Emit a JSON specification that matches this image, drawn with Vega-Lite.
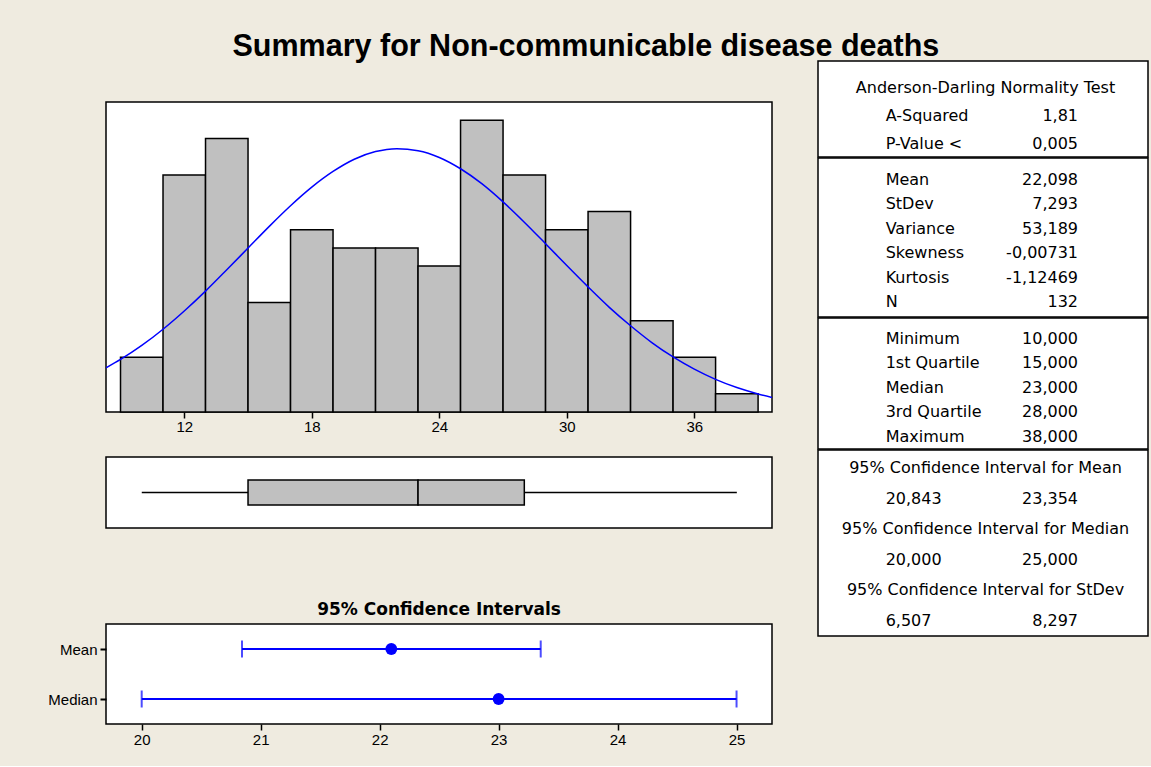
{
  "$schema": "https://vega.github.io/schema/vega-lite/v6.json",
  "background": "#EFEBE0",
  "padding": {"left": 47, "top": 31, "right": 2, "bottom": 18},
  "title": {"text": "Summary for Non-communicable disease deaths", "fontSize": 30.5, "font": "Liberation Sans", "fontWeight": "bold", "anchor": "middle", "color": "black", "offset": -2, "dx": -12},
  "config": {
    "font": "Liberation Sans",
    "view": {"stroke": "black", "strokeWidth": 1.5, "fill": "white"},
    "axis": {"labelColor": "black", "tickColor": "black", "labelFont": "Liberation Sans", "labelFontSize": 15, "tickSize": 6, "tickWidth": 1.5, "domain": false, "grid": false, "title": null}
  },
  "datasets": {
    "hist": [
      {"bin_start": 9, "bin_end": 11, "count": 3},
      {"bin_start": 11, "bin_end": 13, "count": 13},
      {"bin_start": 13, "bin_end": 15, "count": 15},
      {"bin_start": 15, "bin_end": 17, "count": 6},
      {"bin_start": 17, "bin_end": 19, "count": 10},
      {"bin_start": 19, "bin_end": 21, "count": 9},
      {"bin_start": 21, "bin_end": 23, "count": 9},
      {"bin_start": 23, "bin_end": 25, "count": 8},
      {"bin_start": 25, "bin_end": 27, "count": 16},
      {"bin_start": 27, "bin_end": 29, "count": 13},
      {"bin_start": 29, "bin_end": 31, "count": 10},
      {"bin_start": 31, "bin_end": 33, "count": 11},
      {"bin_start": 33, "bin_end": 35, "count": 5},
      {"bin_start": 35, "bin_end": 37, "count": 3},
      {"bin_start": 37, "bin_end": 39, "count": 1}
    ],
    "curve": [
      {"x": 8.317, "density": 2.42},
      {"x": 9, "density": 2.88},
      {"x": 10, "density": 3.65},
      {"x": 11, "density": 4.54},
      {"x": 12, "density": 5.54},
      {"x": 13, "density": 6.63},
      {"x": 14, "density": 7.8},
      {"x": 15, "density": 8.99},
      {"x": 16, "density": 10.18},
      {"x": 17, "density": 11.31},
      {"x": 18, "density": 12.33},
      {"x": 19, "density": 13.19},
      {"x": 20, "density": 13.86},
      {"x": 21, "density": 14.28},
      {"x": 22, "density": 14.44},
      {"x": 23, "density": 14.33},
      {"x": 24, "density": 13.96},
      {"x": 25, "density": 13.34},
      {"x": 26, "density": 12.52},
      {"x": 27, "density": 11.52},
      {"x": 28, "density": 10.41},
      {"x": 29, "density": 9.23},
      {"x": 30, "density": 8.03},
      {"x": 31, "density": 6.86},
      {"x": 32, "density": 5.74},
      {"x": 33, "density": 4.73},
      {"x": 34, "density": 3.81},
      {"x": 35, "density": 3.02},
      {"x": 36, "density": 2.35},
      {"x": 37, "density": 1.79},
      {"x": 38, "density": 1.34},
      {"x": 39, "density": 0.99},
      {"x": 39.655, "density": 0.8}
    ],
    "summary": [{"label": "box", "min": 10, "q1": 15, "median": 23, "q3": 28, "max": 38}],
    "ci": [
      {"stat": "Mean", "lo": 20.843, "est": 22.098, "hi": 23.354},
      {"stat": "Median", "lo": 20, "est": 23, "hi": 25}
    ],
    "table": [
      {"sec": 1, "row": 1, "kind": "h", "a": "Anderson-Darling Normality Test", "b": ""},
      {"sec": 1, "row": 2, "kind": "s", "a": "A-Squared", "b": "1,81"},
      {"sec": 1, "row": 3, "kind": "s", "a": "P-Value <", "b": "0,005"},
      {"sec": 2, "row": 1, "kind": "s", "a": "Mean", "b": "22,098"},
      {"sec": 2, "row": 2, "kind": "s", "a": "StDev", "b": "7,293"},
      {"sec": 2, "row": 3, "kind": "s", "a": "Variance", "b": "53,189"},
      {"sec": 2, "row": 4, "kind": "s", "a": "Skewness", "b": "-0,00731"},
      {"sec": 2, "row": 5, "kind": "s", "a": "Kurtosis", "b": "-1,12469"},
      {"sec": 2, "row": 6, "kind": "s", "a": "N", "b": "132"},
      {"sec": 3, "row": 1, "kind": "s", "a": "Minimum", "b": "10,000"},
      {"sec": 3, "row": 2, "kind": "s", "a": "1st Quartile", "b": "15,000"},
      {"sec": 3, "row": 3, "kind": "s", "a": "Median", "b": "23,000"},
      {"sec": 3, "row": 4, "kind": "s", "a": "3rd Quartile", "b": "28,000"},
      {"sec": 3, "row": 5, "kind": "s", "a": "Maximum", "b": "38,000"},
      {"sec": 4, "row": 1, "kind": "h", "a": "95% Confidence Interval for Mean", "b": ""},
      {"sec": 4, "row": 2, "kind": "s", "a": "20,843", "b": "23,354"},
      {"sec": 4, "row": 3, "kind": "h", "a": "95% Confidence Interval for Median", "b": ""},
      {"sec": 4, "row": 4, "kind": "s", "a": "20,000", "b": "25,000"},
      {"sec": 4, "row": 5, "kind": "h", "a": "95% Confidence Interval for StDev", "b": ""},
      {"sec": 4, "row": 6, "kind": "s", "a": "6,507", "b": "8,297"}
    ]
  },
  "spacing": 44,
  "hconcat": [
    {
      "spacing": 71,
      "vconcat": [
        {
          "spacing": 21,
          "vconcat": [
            {
              "width": 666, "height": 19,
              "view": {"stroke": null, "fill": "transparent"},
              "data": {"values": []},
              "mark": "point",
              "encoding": {}
            },
            {
              "width": 666, "height": 310,
              "layer": [
                {
                  "data": {"name": "hist"},
                  "mark": {"type": "bar", "fill": "#C0C0C0", "stroke": "black", "strokeWidth": 1.5},
                  "encoding": {
                    "x": {"field": "bin_start", "type": "quantitative", "scale": {"domain": [8.317, 39.655], "nice": false, "zero": false}, "axis": {"values": [12, 18, 24, 30, 36], "labelPadding": 1}},
                    "x2": {"field": "bin_end"},
                    "y": {"field": "count", "type": "quantitative", "scale": {"domain": [0, 17], "nice": false}, "axis": null},
                    "y2": {"datum": 0}
                  }
                },
                {
                  "data": {"name": "curve"},
                  "mark": {"type": "line", "color": "#0000FF", "strokeWidth": 1.5, "interpolate": "monotone", "clip": true},
                  "encoding": {
                    "x": {"field": "x", "type": "quantitative"},
                    "y": {"field": "density", "type": "quantitative"}
                  }
                }
              ]
            },
            {
              "width": 666, "height": 71,
              "data": {"name": "summary"},
              "encoding": {"y": {"field": "label", "type": "nominal", "axis": null}},
              "layer": [
                {
                  "mark": {"type": "rule", "color": "black", "strokeWidth": 1.5},
                  "encoding": {
                    "x": {"field": "min", "type": "quantitative", "scale": {"domain": [8.317, 39.655], "nice": false, "zero": false}, "axis": null},
                    "x2": {"field": "max"}
                  }
                },
                {
                  "mark": {"type": "bar", "fill": "#C0C0C0", "stroke": "black", "strokeWidth": 1.5, "size": 25},
                  "encoding": {"x": {"field": "q1", "type": "quantitative"}, "x2": {"field": "median"}}
                },
                {
                  "mark": {"type": "bar", "fill": "#C0C0C0", "stroke": "black", "strokeWidth": 1.5, "size": 25},
                  "encoding": {"x": {"field": "median", "type": "quantitative"}, "x2": {"field": "q3"}}
                }
              ]
            }
          ]
        },
        {
          "width": 666, "height": 100,
          "title": {"text": "95% Confidence Intervals", "font": "DejaVu Sans", "fontSize": 17, "fontWeight": "bold", "anchor": "middle", "offset": 5, "color": "black"},
          "data": {"name": "ci"},
          "encoding": {"y": {"field": "stat", "type": "nominal", "sort": ["Mean", "Median"], "scale": {"type": "point", "padding": 0.5}, "axis": {"labelPadding": 3, "tickWidth": 2}}},
          "layer": [
            {
              "mark": {"type": "rule", "color": "#0000FF", "strokeWidth": 2},
              "encoding": {
                "x": {"field": "lo", "type": "quantitative", "scale": {"domain": [19.7, 25.298], "nice": false, "zero": false}, "axis": {"values": [20, 21, 22, 23, 24, 25], "format": "d", "labelPadding": 2}},
                "x2": {"field": "hi"}
              }
            },
            {
              "mark": {"type": "tick", "color": "#0000FF", "thickness": 2, "size": 17, "orient": "vertical"},
              "encoding": {"x": {"field": "lo", "type": "quantitative"}}
            },
            {
              "mark": {"type": "tick", "color": "#0000FF", "thickness": 2, "size": 17, "orient": "vertical"},
              "encoding": {"x": {"field": "hi", "type": "quantitative"}}
            },
            {
              "mark": {"type": "circle", "color": "#0000FF", "opacity": 1, "size": 140},
              "encoding": {"x": {"field": "est", "type": "quantitative"}}
            }
          ]
        }
      ]
    },
    {
      "spacing": -1,
      "vconcat": [
        {
          "width": 330, "height": 96,
          "data": {"name": "table"},
          "transform": [{"filter": "datum.sec == 1"}],
          "encoding": {"y": {"field": "row", "type": "ordinal", "scale": {"type": "point", "padding": 0.714, "align": 0.667}, "axis": null}},
          "layer": [
            {"transform": [{"filter": "datum.kind == 'h'"}], "mark": {"type": "text", "align": "center", "baseline": "middle", "font": "DejaVu Sans", "fontSize": 16, "color": "black"}, "encoding": {"x": {"datum": 0.5076, "type": "quantitative", "scale": {"domain": [0, 1], "nice": false, "zero": false}, "axis": null}, "text": {"field": "a"}}},
            {"transform": [{"filter": "datum.kind != 'h'"}], "mark": {"type": "text", "align": "left", "baseline": "middle", "font": "DejaVu Sans", "fontSize": 16, "color": "black"}, "encoding": {"x": {"datum": 0.205, "type": "quantitative"}, "text": {"field": "a"}}},
            {"transform": [{"filter": "datum.kind != 'h'"}], "mark": {"type": "text", "align": "right", "baseline": "middle", "font": "DejaVu Sans", "fontSize": 16, "color": "black"}, "encoding": {"x": {"datum": 0.788, "type": "quantitative"}, "text": {"field": "b"}}}
          ]
        },
        {
          "width": 330, "height": 159,
          "data": {"name": "table"},
          "transform": [{"filter": "datum.sec == 2"}],
          "encoding": {"y": {"field": "row", "type": "ordinal", "scale": {"type": "point", "padding": 0.758, "align": 0.595}, "axis": null}},
          "layer": [
            {"mark": {"type": "text", "align": "left", "baseline": "middle", "font": "DejaVu Sans", "fontSize": 16, "color": "black"}, "encoding": {"x": {"datum": 0.205, "type": "quantitative", "scale": {"domain": [0, 1], "nice": false, "zero": false}, "axis": null}, "text": {"field": "a"}}},
            {"mark": {"type": "text", "align": "right", "baseline": "middle", "font": "DejaVu Sans", "fontSize": 16, "color": "black"}, "encoding": {"x": {"datum": 0.788, "type": "quantitative"}, "text": {"field": "b"}}}
          ]
        },
        {
          "width": 330, "height": 131,
          "data": {"name": "table"},
          "transform": [{"filter": "datum.sec == 3"}],
          "encoding": {"y": {"field": "row", "type": "ordinal", "scale": {"type": "point", "padding": 0.673, "align": 0.636}, "axis": null}},
          "layer": [
            {"mark": {"type": "text", "align": "left", "baseline": "middle", "font": "DejaVu Sans", "fontSize": 16, "color": "black"}, "encoding": {"x": {"datum": 0.205, "type": "quantitative", "scale": {"domain": [0, 1], "nice": false, "zero": false}, "axis": null}, "text": {"field": "a"}}},
            {"mark": {"type": "text", "align": "right", "baseline": "middle", "font": "DejaVu Sans", "fontSize": 16, "color": "black"}, "encoding": {"x": {"datum": 0.788, "type": "quantitative"}, "text": {"field": "b"}}}
          ]
        },
        {
          "width": 330, "height": 186,
          "data": {"name": "table"},
          "transform": [{"filter": "datum.sec == 4"}],
          "encoding": {"y": {"field": "row", "type": "ordinal", "scale": {"type": "point", "padding": 0.545, "align": 0.54}, "axis": null}},
          "layer": [
            {"transform": [{"filter": "datum.kind == 'h'"}], "mark": {"type": "text", "align": "center", "baseline": "middle", "font": "DejaVu Sans", "fontSize": 16, "color": "black"}, "encoding": {"x": {"datum": 0.5076, "type": "quantitative", "scale": {"domain": [0, 1], "nice": false, "zero": false}, "axis": null}, "text": {"field": "a"}}},
            {"transform": [{"filter": "datum.kind != 'h'"}], "mark": {"type": "text", "align": "left", "baseline": "middle", "font": "DejaVu Sans", "fontSize": 16, "color": "black"}, "encoding": {"x": {"datum": 0.205, "type": "quantitative"}, "text": {"field": "a"}}},
            {"transform": [{"filter": "datum.kind != 'h'"}], "mark": {"type": "text", "align": "right", "baseline": "middle", "font": "DejaVu Sans", "fontSize": 16, "color": "black"}, "encoding": {"x": {"datum": 0.788, "type": "quantitative"}, "text": {"field": "b"}}}
          ]
        }
      ]
    }
  ]
}
